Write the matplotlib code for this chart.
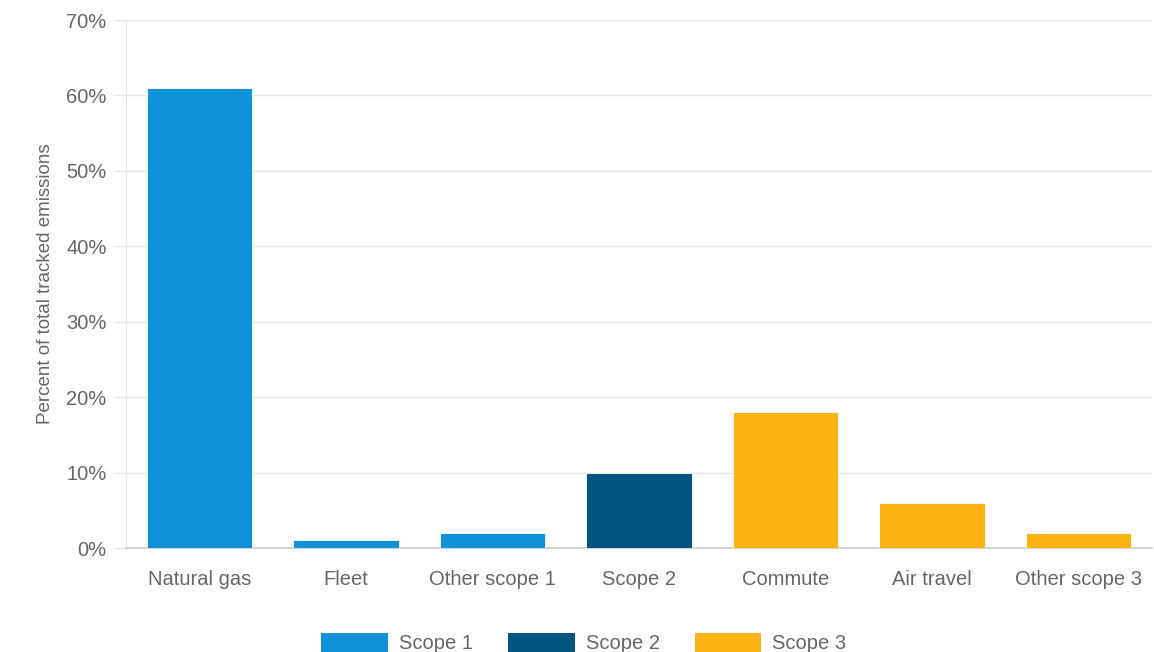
import matplotlib
matplotlib.use('Agg')
import matplotlib.pyplot as plt
from matplotlib.patches import Patch
from matplotlib.ticker import FuncFormatter

categories = ["Natural gas", "Fleet", "Other scope 1", "Scope 2", "Commute", "Air travel", "Other scope 3"]
values = [61, 1, 2, 10, 18, 6, 2]
scopes = ["Scope 1", "Scope 1", "Scope 1", "Scope 2", "Scope 3", "Scope 3", "Scope 3"]
scope_names = ["Scope 1", "Scope 2", "Scope 3"]
scope_colors = {"Scope 1": "#1192d8", "Scope 2": "#01567f", "Scope 3": "#feb415"}

plt.rcParams['font.family'] = ['Liberation Sans', 'DejaVu Sans']

fig = plt.figure(figsize=(11.54, 6.52), dpi=100)
ax = fig.add_axes([0.1092, 0.1595, 0.8888, 0.8098])

x = list(range(len(categories)))
colors = [scope_colors[s] for s in scopes]
ax.bar(x, values, width=0.72, color=colors, edgecolor='white', linewidth=0.6, zorder=3)

ax.set_xlim(-0.5, len(categories) - 0.5)
ax.set_ylim(0, 70)
ax.set_yticks(range(0, 71, 10))
ax.yaxis.set_major_formatter(FuncFormatter(lambda v, p: f"{int(v)}%"))
ax.set_xticks(x)
ax.set_xticklabels(categories)

ax.grid(axis='y', color='#e6e6e6', linewidth=1, zorder=0)
for s in ['top', 'right']:
    ax.spines[s].set_visible(False)
ax.spines['left'].set_color('#e6e6e6')
ax.spines['bottom'].set_color('#cccccc')
ax.spines['bottom'].set_linewidth(1.2)
ax.tick_params(axis='y', colors='#e6e6e6', labelcolor='#666666', labelsize=14.5, length=9, width=1, pad=5)
ax.tick_params(axis='x', length=0, labelcolor='#666666', labelsize=14.5, pad=16)

ax.set_ylabel("Percent of total tracked emissions", color='#666666', fontsize=13.5, labelpad=9)

handles = [Patch(facecolor=scope_colors[s], edgecolor='none') for s in scope_names]
fig.legend(handles, scope_names, loc='center', bbox_to_anchor=(0.506, 0.014), ncol=3,
           frameon=False, fontsize=14.5, handlelength=3.3, handleheight=1.1,
           handletextpad=0.55, columnspacing=1.75, labelcolor='#666666')

fig.savefig('out.png', dpi=100)
